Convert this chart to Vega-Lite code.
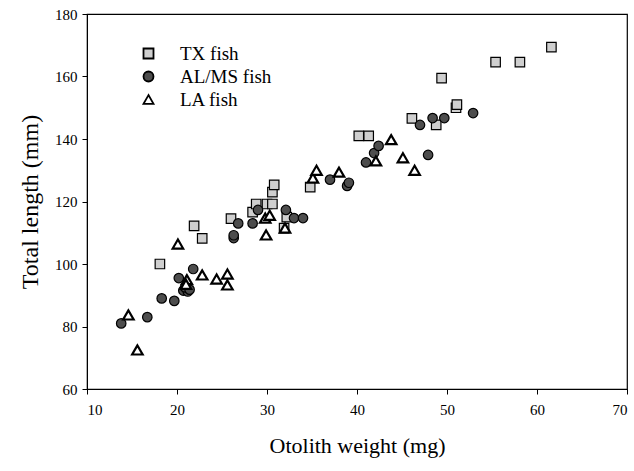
{
  "$schema": "https://vega.github.io/schema/vega-lite/v6.json",
  "width": 540,
  "height": 375,
  "autosize": "none",
  "padding": {"left": 87, "top": 14, "right": 7, "bottom": 82},
  "background": "white",
  "config": {
    "view": {"stroke": "black", "strokeWidth": 1.2},
    "font": "Liberation Serif",
    "axis": {"grid": false, "domainColor": "black", "tickColor": "black", "labelColor": "black", "titleColor": "black", "labelFont": "Liberation Serif", "titleFont": "Liberation Serif", "titleFontWeight": "normal", "labelFontSize": 15, "titleFontSize": 22, "tickSize": 5}
  },
  "data": {
    "values": [
      {"g": "TX fish", "w": 18.1, "l": 100},
      {"g": "TX fish", "w": 21.9, "l": 112.2},
      {"g": "TX fish", "w": 22.8, "l": 108.2},
      {"g": "TX fish", "w": 26.0, "l": 114.5},
      {"g": "TX fish", "w": 28.4, "l": 116.6},
      {"g": "TX fish", "w": 28.8, "l": 119.2},
      {"g": "TX fish", "w": 30.0, "l": 119.2},
      {"g": "TX fish", "w": 30.6, "l": 119.2},
      {"g": "TX fish", "w": 30.6, "l": 123},
      {"g": "TX fish", "w": 30.8, "l": 125.3},
      {"g": "TX fish", "w": 32.2, "l": 115},
      {"g": "TX fish", "w": 31.9, "l": 111.5},
      {"g": "TX fish", "w": 34.8, "l": 124.6},
      {"g": "TX fish", "w": 40.2, "l": 141},
      {"g": "TX fish", "w": 41.3, "l": 141},
      {"g": "TX fish", "w": 46.1, "l": 146.6},
      {"g": "TX fish", "w": 48.8, "l": 144.5},
      {"g": "TX fish", "w": 51.0, "l": 150},
      {"g": "TX fish", "w": 51.1, "l": 151},
      {"g": "TX fish", "w": 49.4, "l": 159.5},
      {"g": "TX fish", "w": 55.4, "l": 164.6},
      {"g": "TX fish", "w": 58.1, "l": 164.6},
      {"g": "TX fish", "w": 61.6, "l": 169.4},
      {"g": "AL/MS fish", "w": 13.8, "l": 81},
      {"g": "AL/MS fish", "w": 16.7, "l": 83},
      {"g": "AL/MS fish", "w": 18.3, "l": 89},
      {"g": "AL/MS fish", "w": 19.7, "l": 88.2},
      {"g": "AL/MS fish", "w": 20.2, "l": 95.5},
      {"g": "AL/MS fish", "w": 21.8, "l": 98.4},
      {"g": "AL/MS fish", "w": 20.7, "l": 91.5},
      {"g": "AL/MS fish", "w": 21.2, "l": 91.2},
      {"g": "AL/MS fish", "w": 20.9, "l": 92.5},
      {"g": "AL/MS fish", "w": 21.4, "l": 91.8},
      {"g": "AL/MS fish", "w": 26.3, "l": 108.3},
      {"g": "AL/MS fish", "w": 26.3, "l": 109.2},
      {"g": "AL/MS fish", "w": 26.8, "l": 113},
      {"g": "AL/MS fish", "w": 28.4, "l": 113},
      {"g": "AL/MS fish", "w": 29.0, "l": 117.3},
      {"g": "AL/MS fish", "w": 32.1, "l": 117.3},
      {"g": "AL/MS fish", "w": 33.0, "l": 114.7},
      {"g": "AL/MS fish", "w": 34.0, "l": 114.7},
      {"g": "AL/MS fish", "w": 37.0, "l": 127},
      {"g": "AL/MS fish", "w": 38.9, "l": 125},
      {"g": "AL/MS fish", "w": 39.1, "l": 126},
      {"g": "AL/MS fish", "w": 41.0, "l": 132.5},
      {"g": "AL/MS fish", "w": 41.9, "l": 135.5},
      {"g": "AL/MS fish", "w": 42.4, "l": 137.8},
      {"g": "AL/MS fish", "w": 47.0, "l": 144.5},
      {"g": "AL/MS fish", "w": 48.4, "l": 146.7},
      {"g": "AL/MS fish", "w": 49.7, "l": 146.7},
      {"g": "AL/MS fish", "w": 52.9, "l": 148.3},
      {"g": "AL/MS fish", "w": 47.9, "l": 134.9},
      {"g": "LA fish", "w": 14.6, "l": 83.7},
      {"g": "LA fish", "w": 15.6, "l": 72.5},
      {"g": "LA fish", "w": 20.1, "l": 106.4},
      {"g": "LA fish", "w": 21.1, "l": 95},
      {"g": "LA fish", "w": 21.0, "l": 93.5},
      {"g": "LA fish", "w": 22.8, "l": 96.5},
      {"g": "LA fish", "w": 24.4, "l": 95.2},
      {"g": "LA fish", "w": 25.6, "l": 96.8},
      {"g": "LA fish", "w": 25.6, "l": 93.3},
      {"g": "LA fish", "w": 29.8, "l": 114.7},
      {"g": "LA fish", "w": 30.3, "l": 115.6},
      {"g": "LA fish", "w": 29.9, "l": 109.3},
      {"g": "LA fish", "w": 32.0, "l": 111.5},
      {"g": "LA fish", "w": 35.1, "l": 127.5},
      {"g": "LA fish", "w": 35.5, "l": 130},
      {"g": "LA fish", "w": 38.0, "l": 129.4},
      {"g": "LA fish", "w": 42.1, "l": 133},
      {"g": "LA fish", "w": 43.8, "l": 139.8},
      {"g": "LA fish", "w": 45.1, "l": 134},
      {"g": "LA fish", "w": 46.4, "l": 130}
    ]
  },
  "mark": {"type": "point", "filled": true, "opacity": 1},
  "encoding": {
    "x": {"field": "w", "type": "quantitative", "title": "Otolith weight (mg)", "scale": {"domain": [10, 70], "nice": false, "zero": false}, "axis": {"values": [10, 20, 30, 40, 50, 60, 70], "titlePadding": 18, "labelPadding": 8}},
    "y": {"field": "l", "type": "quantitative", "title": "Total length (mm)", "scale": {"domain": [60, 180], "nice": false, "zero": false}, "axis": {"values": [60, 80, 100, 120, 140, 160, 180], "titleFontSize": 24, "titlePadding": 12, "labelPadding": 5}},
    "shape": {"field": "g", "type": "nominal", "scale": {"domain": ["TX fish", "AL/MS fish", "LA fish"], "range": ["square", "circle", "triangle-up"]}, "legend": {"title": null, "orient": "none", "legendX": 52, "legendY": 30, "labelFontSize": 19, "labelFont": "Liberation Serif", "labelColor": "black", "rowPadding": 3, "labelOffset": 22, "symbolStrokeWidth": 1.8}},
    "fill": {"field": "g", "type": "nominal", "scale": {"domain": ["TX fish", "AL/MS fish", "LA fish"], "range": ["#cfcfcf", "#4d4d4d", "#ffffff"]}},
    "stroke": {"field": "g", "type": "nominal", "scale": {"domain": ["TX fish", "AL/MS fish", "LA fish"], "range": ["#000000", "#000000", "#000000"]}},
    "strokeWidth": {"condition": {"test": "datum.g === 'LA fish'", "value": 2.2}, "value": 1.2},
    "size": {"condition": {"test": "datum.g === 'LA fish'", "value": 110}, "value": 90}
  }
}
